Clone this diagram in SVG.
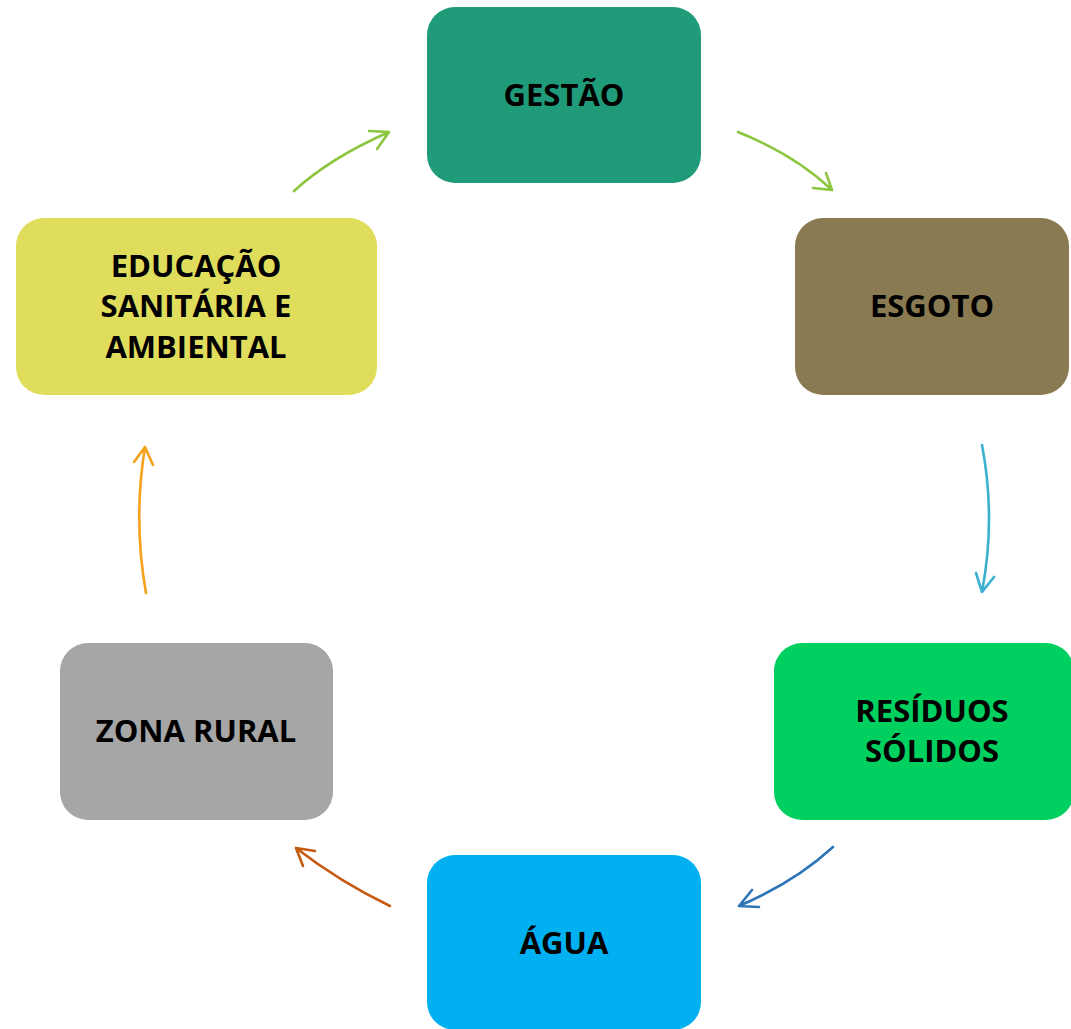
<svg xmlns="http://www.w3.org/2000/svg" width="1071" height="1029" viewBox="0 0 1071 1029">
<style>
.lbl{font-family:"Open Sans","Liberation Sans",sans-serif;font-weight:bold;font-size:31px;fill:#000;text-anchor:middle}
.arr{fill:none;stroke-width:2.6;stroke-linecap:round;stroke-linejoin:round}
</style>
<rect width="1071" height="1029" fill="#fff"/>
<g id="gestao"><rect x="427" y="7" width="274" height="176" rx="28" fill="#1F9B7A"/><text class="lbl" x="564" y="106">GESTÃO</text></g>
<g id="esgoto"><rect x="795" y="218" width="274" height="177" rx="28" fill="#897A52"/><text class="lbl" x="932" y="317">ESGOTO</text></g>
<g id="residuos"><rect x="774" y="643" width="300" height="177" rx="28" fill="#00D060"/><text class="lbl" x="932" y="722">RESÍDUOS</text><text class="lbl" x="932" y="762">SÓLIDOS</text></g>
<g id="agua"><rect x="427" y="855" width="274" height="175" rx="28" fill="#00B0F0"/><text class="lbl" x="564" y="954">ÁGUA</text></g>
<g id="zona"><rect x="60" y="643" width="273" height="177" rx="28" fill="#A6A6A6"/><text class="lbl" x="196" y="742">ZONA RURAL</text></g>
<g id="educacao"><rect x="16" y="218" width="361" height="177" rx="28" fill="#E0DD5C"/><text class="lbl" x="196" y="277">EDUCAÇÃO</text><text class="lbl" x="196" y="317">SANITÁRIA E</text><text class="lbl" x="196" y="358">AMBIENTAL</text></g>
<g id="connectors">
<path class="arr" stroke="#8CC63F" d="M294,191 Q330,158 389,132 M369,131 L389,132 L377,149"/>
<path class="arr" stroke="#8CC63F" d="M738,132 Q795,155 832,190 M813,188 L832,190 L826,173"/>
<path class="arr" stroke="#3BB1D2" d="M982,445 Q996,518 982,592 M976,573 L982,592 L994,577"/>
<path class="arr" stroke="#2E75B6" d="M833,847 Q795,882 739,906 M752,890 L739,906 L759,907"/>
<path class="arr" stroke="#C55A11" d="M390,906 Q340,882 296,848 M315,851 L296,848 L303,866"/>
<path class="arr" stroke="#F4A11C" d="M146,593 Q133,520 145,447 M134,462 L145,447 L153,465"/>
</g>
</svg>
